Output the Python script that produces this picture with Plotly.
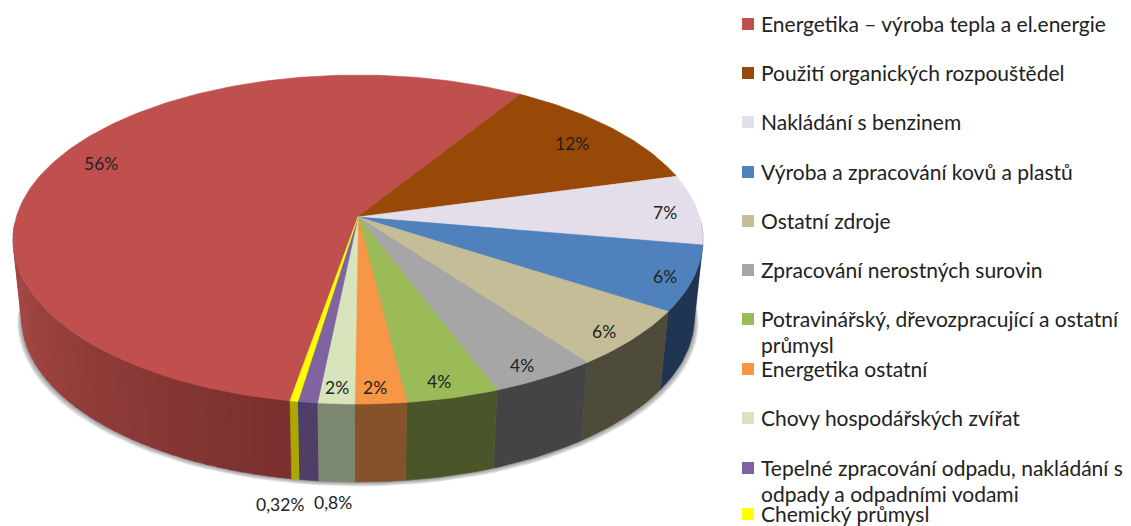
import math
import plotly.graph_objects as go

# ---- data ----
categories = ["Energetika – výroba tepla a el.energie", "Použití organických rozpouštědel",
              "Nakládání s benzinem", "Výroba a zpracování kovů a plastů", "Ostatní zdroje",
              "Zpracování nerostných surovin",
              "Potravinářský, dřevozpracující a ostatní<br>průmysl", "Energetika ostatní",
              "Chovy hospodářských zvířat",
              "Tepelné zpracování odpadu, nakládání s<br>odpady a odpadními vodami",
              "Chemický průmysl"]
values = [56.08, 11.9, 6.9, 6.4, 5.7, 4.4, 3.8, 2.1, 1.5, 0.8, 0.32]
value_labels = ["56%", "12%", "7%", "6%", "6%", "4%", "4%", "2%", "2%", "0,8%", "0,32%"]

# ---- styling and layout ----
top_colors = ["#C0504D", "#984807", "#E3DEEA", "#4F81BD", "#C4BD97", "#A6A6A6",
              "#9BBB59", "#F79646", "#D7E4BC", "#8064A2", "#FFFF00"]
side_colors = ["#A64643", "#7A3A06", "#5F5C62", "#1F3552", "#4F4B3A", "#444444",
               "#4A5629", "#85522A", "#7D8872", "#4F3E68", "#ACA800"]
label_xy = [(101, 163), (572, 143), (665, 212), (665, 276), (604, 331), (522, 365),
            (439, 381), (375, 387), (337, 387), (333, 502), (280, 504)]
legend_y = [24, 73, 122, 172, 221, 270, 319, 369, 418, 468, 514]

W, H = 1131, 526
PAGE_MARGIN = 8  # the page's own body margin
CX, CY = 358, 217
A, B, K = 341.7, 161.4, -0.137
DEPTH, BOTTOM_SCALE = 78, 0.975
BROWN_START = 32.0


def project(theta):
    t = math.radians(theta)
    u, v = math.sin(t), -math.cos(t)
    d = 1 + K * v
    return CX + A * u / d, CY + B * v / d


def bottom(theta, grow=0.0, dy=0.0):
    x, y = project(theta)
    return CX + (x - CX) * (BOTTOM_SCALE + grow), y + DEPTH + dy


def arange(a, b, step=1.0):
    n = max(2, int(abs(b - a) / step) + 1)
    return [a + (b - a) * i / (n - 1) for i in range(n)]


def poly(xs, ys, color):
    return go.Scatter(x=xs, y=ys, mode="lines", fill="toself", fillcolor=color,
                      line=dict(color=color, width=0.6), hoverinfo="skip", showlegend=False)


# angular extents of each slice, clockwise from the top
total = sum(values)
starts = []
a = BROWN_START - values[0] / total * 360
for val in values:
    starts.append(a)
    a += val / total * 360

traces = []

# soft shadow under the rim
for i in range(5, 0, -1):
    ths = arange(0, 360, 3)
    pts = [bottom(t, grow=i * 0.0025, dy=i * 0.9) for t in ths]
    traces.append(go.Scatter(x=[p[0] for p in pts], y=[p[1] for p in pts], mode="lines", fill="toself",
                             fillcolor="rgba(70,70,70,0.13)", line=dict(width=0),
                             hoverinfo="skip", showlegend=False))


def side(a0, a1, color):
    ths = arange(a0, a1)
    top = [project(t) for t in ths]
    bot = [bottom(t) for t in reversed(ths)]
    return poly([p[0] for p in top + bot], [p[1] for p in top + bot], color)


def lerp_color(c0, c1, f):
    return "rgb(%d,%d,%d)" % tuple(c0[i] + (c1[i] - c0[i]) * f for i in range(3))


# visible rim, back to front
for i, (s, val) in enumerate(zip(starts, values)):
    e = s + val / total * 360
    s2, e2 = s % 360, (e - 1e-9) % 360
    if i == 0:
        # red rim has a gradient running towards the front
        lo, hi = s2, 268.0
        n = 40
        for j in range(n):
            t0 = hi - (hi - lo) * j / n
            t1 = hi - (hi - lo) * (j + 1) / n
            f = j / (n - 1)
            traces.append(side(t0, t1 - 0.3, lerp_color((172, 76, 72), (122, 48, 46), f)))
    else:
        lo, hi = max(s2, 92), min(e2, 268)
        if hi > lo:
            traces.append(side(lo, hi, side_colors[i]))

# top surface
for i, (s, val) in enumerate(zip(starts, values)):
    ths = arange(s, s + val / total * 360)
    pts = [project(t) for t in ths]
    traces.append(poly([CX] + [p[0] for p in pts] + [CX], [CY] + [p[1] for p in pts] + [CY], top_colors[i]))

# legend swatches
traces.append(go.Scatter(x=[748] * len(categories), y=legend_y, mode="markers",
                         marker=dict(symbol="square", size=12, color=top_colors),
                         hoverinfo="skip", showlegend=False))

FONT = "Lato"
annotations = []
for txt, (x, y) in zip(value_labels, label_xy):
    annotations.append(dict(x=x, y=y, text=txt, xref="x", yref="y", showarrow=False,
                            xanchor="center", yanchor="middle",
                            font=dict(family=FONT, size=17.5, color="#222222")))
for cat, y in zip(categories, legend_y):
    for k, line in enumerate(cat.split("<br>")):
        annotations.append(dict(x=759, y=y - 1 + k * 26, text=line, xref="x", yref="y", showarrow=False,
                                xanchor="left", yanchor="middle",
                                font=dict(family=FONT, size=21, color="#222222")))

fig = go.Figure(traces)
fig.update_layout(width=W - PAGE_MARGIN, height=H - PAGE_MARGIN, margin=dict(l=0, r=0, t=0, b=0),
                  paper_bgcolor="white", plot_bgcolor="white",
                  xaxis=dict(range=[PAGE_MARGIN, W], visible=False, fixedrange=True),
                  yaxis=dict(range=[H, PAGE_MARGIN], visible=False, fixedrange=True),
                  annotations=annotations)
fig.write_html("out.html", config=dict(displayModeBar=False))
